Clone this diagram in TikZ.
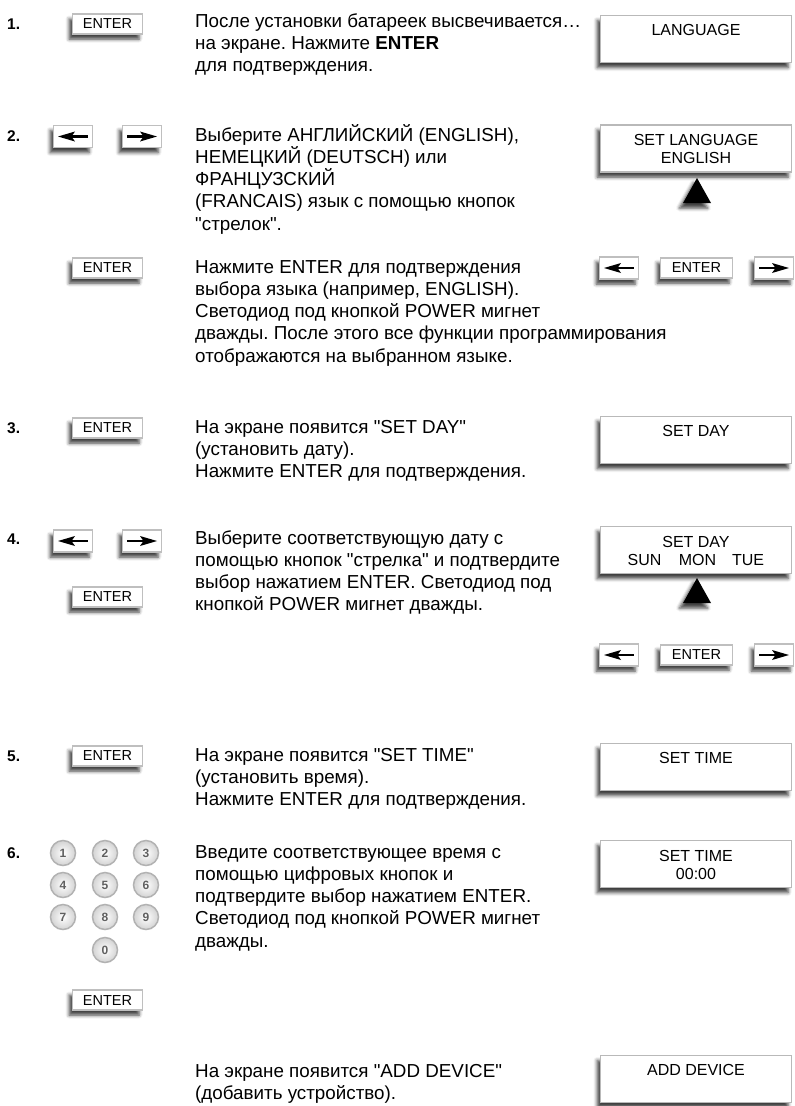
\documentclass[tikz,border=0pt]{standalone}
\usepackage{fontspec}
\setmainfont{Liberation Sans}[Ligatures=TeXOff]
\usetikzlibrary{shadows.blur,calc}
\frenchspacing
\newcommand\bodyfont{\fontsize{18.8}{22}\selectfont}
\newcommand\para[3]{\foreach \ln [count=\k] in {#3} \node[body] (#1-\k) at (195,{#2+22.3*(\k-1)}) {\ln};}
\newcommand\larr[1]{\fill ($(#1.center)+(-15,0)$) -- ++(17,-5) -- ++(-3.5,5) -- ++(3.5,5) -- cycle;
  \draw[line width=2.6pt] ($(#1.center)+(-5,0)$) -- ($(#1.center)+(15,0)$);}
\newcommand\rarr[1]{\fill ($(#1.center)+(15,0)$) -- ++(-17,-5) -- ++(3.5,5) -- ++(-3.5,5) -- cycle;
  \draw[line width=2.6pt] ($(#1.center)+(5,0)$) -- ($(#1.center)+(-15,0)$);}
\begin{document}
\begin{tikzpicture}[x=1pt,y=-1pt,
  body/.style={anchor=base west,inner sep=0,font=\bodyfont},
  stepnum/.style={anchor=base west,inner sep=0,font=\fontsize{15.5}{18}\selectfont\bfseries},
  shad/.style={blur shadow={shadow xshift=-3.5pt,shadow yshift=-5pt,shadow blur radius=3.5pt,shadow opacity=75}},
  btn/.style={shad,draw=gray!50,line width=1.3pt,fill=white,minimum width=70pt,minimum height=20pt,inner sep=0,font=\fontsize{14.5}{16}\selectfont},
  abtn/.style={btn,minimum width=39pt,minimum height=22pt},
  disp/.style={shad,draw=gray!55,line width=1.5pt,fill=white,minimum width=191pt,minimum height=47pt,inner sep=0},
  dtext/.style={anchor=base,inner sep=0,font=\fontsize{16}{18}\selectfont},
  ptr/.style={shad,fill=black},
  key/.style={circle,draw=gray!60,line width=1.5pt,inner color=white,outer color=gray!35,minimum size=25pt,inner sep=0,font=\fontsize{12}{13}\selectfont\bfseries\color{gray!75!black}}]
\useasboundingbox (0,0) rectangle (795,1106);
% ---------- step 1
\node[stepnum] (n1) at (7,29) {1.};
\node[btn] (e1) at (107.5,24) {ENTER};
\para{p1}{27}{{После установки батареек высвечивается…},{на экране. Нажмите \textbf{ENTER}},{для подтверждения.}}
\node[disp] (d1) at (696,39) {};
\node[dtext] (d1t) at (696,35) {LANGUAGE};
% ---------- step 2
\node[stepnum] (n2) at (7,141) {2.};
\node[abtn] (l2) at (73,136.5) {};\larr{l2}
\node[abtn] (r2) at (142,136.5) {};\rarr{r2}
\para{p2}{141}{{Выберите АНГЛИЙСКИЙ (ENGLISH),},{НЕМЕЦКИЙ (DEUTSCH) или},{ФРАНЦУЗСКИЙ},{(FRANCAIS) язык с помощью кнопок},{"стрелок".}}
\node[disp] (d2) at (696,148.5) {};
\node[dtext] (d2a) at (696,145) {SET LANGUAGE};
\node[dtext] (d2b) at (696,163) {ENGLISH};
\fill[ptr] (697,178) -- (711,203) -- (683,203) -- cycle;
% ---------- enter language
\node[btn] (e2) at (107.5,268) {ENTER};
\para{p3}{273}{{Нажмите ENTER для подтверждения},{выбора языка (например, ENGLISH).},{Светодиод под кнопкой POWER мигнет},{дважды. После этого все функции программирования},{отображаются на выбранном языке.}}
\node[abtn] (l2r) at (619,268) {};\larr{l2r}
\node[btn,minimum width=72pt] (e2r) at (696.5,268) {ENTER};
\node[abtn] (r2r) at (774,268) {};\rarr{r2r}
% ---------- step 3
\node[stepnum] (n3) at (7,433) {3.};
\node[btn] (e3) at (107.5,428) {ENTER};
\para{p4}{433}{{На экране появится "SET DAY"},{(установить дату).},{Нажмите ENTER для подтверждения.}}
\node[disp] (d3) at (696,440) {};
\node[dtext] (d3t) at (696,436) {SET DAY};
% ---------- step 4
\node[stepnum] (n4) at (7,544) {4.};
\node[abtn] (l4) at (73,541) {};\larr{l4}
\node[abtn] (r4) at (142,541) {};\rarr{r4}
\node[btn] (e4) at (107.5,597) {ENTER};
\para{p5}{544}{{Выберите соответствующую дату с},{помощью кнопок "стрелка" и подтвердите},{выбор нажатием ENTER. Светодиод под},{кнопкой POWER мигнет дважды.}}
\node[disp] (d4) at (696,550) {};
\node[dtext] (d4a) at (696,547) {SET DAY};
\node[dtext] (d4b) at (644.5,565) {SUN};
\node[dtext] (d4c) at (697.5,565) {MON};
\node[dtext] (d4d) at (748,565) {TUE};
\fill[ptr] (697,578) -- (711,603) -- (683,603) -- cycle;
\node[abtn] (l4r) at (619,655) {};\larr{l4r}
\node[btn,minimum width=72pt] (e4r) at (696.5,655) {ENTER};
\node[abtn] (r4r) at (774,655) {};\rarr{r4r}
% ---------- step 5
\node[stepnum] (n5) at (7,761) {5.};
\node[btn] (e5) at (107.5,756) {ENTER};
\para{p6}{761}{{На экране появится "SET TIME"},{(установить время).},{Нажмите ENTER для подтверждения.}}
\node[disp] (d5) at (696,767) {};
\node[dtext] (d5t) at (696,763) {SET TIME};
% ---------- step 6
\node[stepnum] (n6) at (7,858) {6.};
\foreach \d/\x/\y in {1/63/853,2/105/853,3/146/853,4/63/885,5/105/885,6/146/885,7/63/917,8/105/917,9/146/917,0/105/950}
  \node[key] (k\d) at (\x,\y) {\d};
\node[btn] (e6) at (107.5,1000) {ENTER};
\para{p7}{858}{{Введите соответствующее время с},{помощью цифровых кнопок и},{подтвердите выбор нажатием ENTER.},{Светодиод под кнопкой POWER мигнет},{дважды.}}
\node[disp] (d6) at (696,864) {};
\node[dtext] (d6a) at (696,861) {SET TIME};
\node[dtext] (d6b) at (696,879) {00:00};
% ---------- last
\para{p8}{1077}{{На экране появится "ADD DEVICE"},{(добавить устройство).}}
\node[disp] (d7) at (696,1079) {};
\node[dtext] (d7t) at (696,1075) {ADD DEVICE};
\end{tikzpicture}
\end{document}
